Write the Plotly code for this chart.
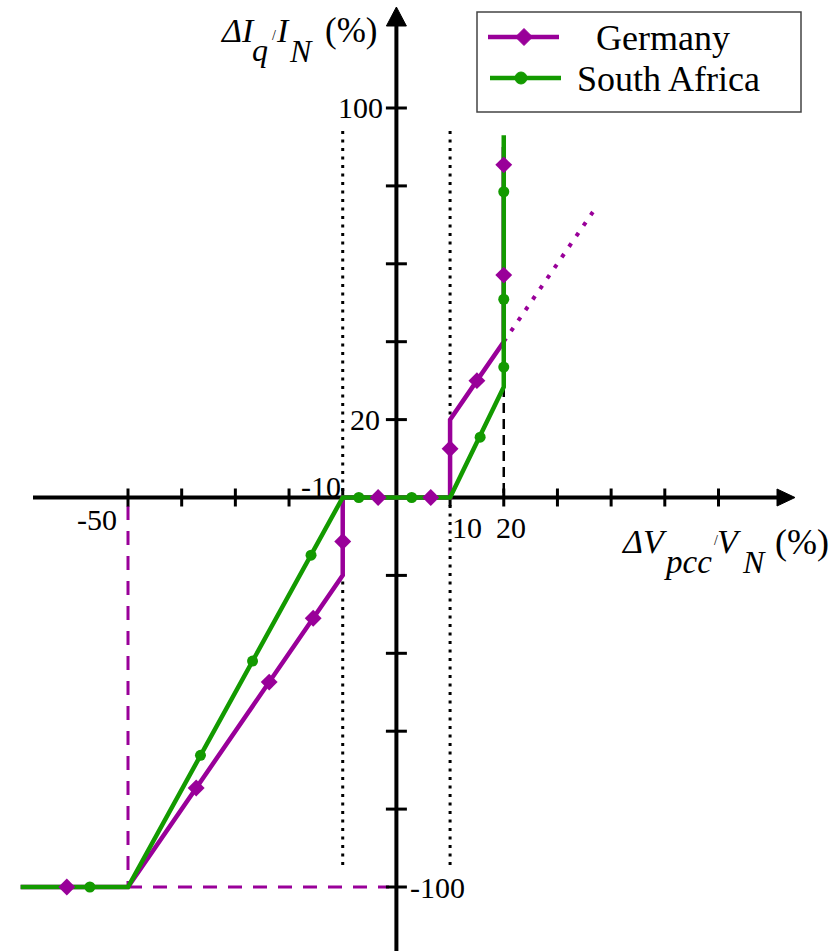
import plotly.graph_objects as go

# ---------------------------------------------------------------------------
# Reactive current injection characteristics (ΔIq/IN versus ΔVpcc/VN, in %)
# ---------------------------------------------------------------------------
# Germany: dead band ±10 %, k = 2, step of 20 % at the band edge
GER_LINE_X = [-70, -50, -10, -10, 10, 10, 15, 20, 20]
GER_LINE_Y = [-100, -100, -20, 0, 0, 20, 30, 40, 90]
GER_EXT_X = [20, 36.6]          # continuation of the k = 2 slope (dotted)
GER_EXT_Y = [40, 73.3]
GER_MARK_X = [-61.4, -37.3, -23.7, -15.5, -10, -3.4, 6.4, 10, 15, 20, 20]
GER_MARK_Y = [-100, -74.6, -47.4, -31.0, -11.3, 0, 0, 12.5, 30, 57.1, 85.4]

# South Africa: dead band ±10 %, k = 2.5 on the under-voltage side
SA_LINE_X = [-70, -50, -10, 10, 20, 20]
SA_LINE_Y = [-100, -100, 0, 0, 28.4, 93]
SA_MARK_X = [-57.1, -36.5, -26.8, -15.9, -7.0, 2.85, 15.6, 20, 20, 20]
SA_MARK_Y = [-100, -66.2, -42.0, -14.8, 0, 0, 15.5, 33.5, 50.9, 78.5]

X_TICKS = [-50, -40, -30, -20, -10, 10, 20, 30, 40, 50, 60]
Y_TICKS = [-100, -80, -60, -40, -20, 20, 40, 60, 80, 100]
X_TICK_LABELS = {-50: "-50", -10: "-10", 10: "10", 20: "20"}
Y_TICK_LABELS = {20: "20", 100: "100", -100: "-100"}

PURPLE = "#990099"
GREEN = "#139a00"
FONT = "Times New Roman, Liberation Serif, Tinos, serif"

# ---------------------------------------------------------------------------
# Canvas geometry: pixel <-> data conversion for the hand-drawn axes
# ---------------------------------------------------------------------------
W, H = 838, 951
OX, OY = 396.4, 497.5          # origin in pixels
KX, KY = 5.368, 3.895          # pixels per unit
X_RANGE = [-OX / KX, (W - OX) / KX]
Y_RANGE = [(OY - H) / KY, OY / KY]


def dx(px):
    return (px - OX) / KX


def dy(py):
    return (OY - py) / KY


def line(x0, y0, x1, y1, color="black", width=4, dash=None, layer="below"):
    ln = dict(color=color, width=width)
    if dash:
        ln["dash"] = dash
    return dict(type="line", x0=x0, y0=y0, x1=x1, y1=y1, xref="x", yref="y",
                line=ln, layer=layer)


shapes = []

# guide lines
shapes.append(line(-10, dy(131), -10, dy(867), width=3, dash="3px,5.5px"))
shapes.append(line(10, dy(131), 10, dy(867), width=3, dash="3px,5.5px"))
shapes.append(line(20, SA_LINE_Y[4], 20, 0, width=2.5, dash="10px,6px"))
shapes.append(line(-50, dy(506), -50, -100, color=PURPLE, width=3, dash="14px,11px"))
shapes.append(line(-50, -100, dx(389), -100, color=PURPLE, width=3, dash="14px,11px"))

# axes
shapes.append(line(dx(33), 0, dx(780), 0))
shapes.append(line(0, dy(H), 0, dy(24)))
shapes.append(dict(type="path", xref="x", yref="y", layer="below",
                   path=f"M{dx(795)},0 L{dx(777)},{8.5 / KY} L{dx(777)},{-8.5 / KY} Z",
                   fillcolor="black", line=dict(color="black", width=1)))
shapes.append(dict(type="path", xref="x", yref="y", layer="below",
                   path=f"M0,{dy(7)} L{10 / KX},{dy(26)} L{-10 / KX},{dy(26)} Z",
                   fillcolor="black", line=dict(color="black", width=1)))
for t in X_TICKS:
    shapes.append(line(t, 9 / KY, t, -9 / KY, width=3))
for t in Y_TICKS:
    shapes.append(line(-10.5 / KX, t, 10.5 / KX, t, width=3))

# legend frame and glyphs (paper coordinates)
def pxp(px):
    return px / W


def pyp(py):
    return 1 - py / H


shapes.append(dict(type="rect", xref="paper", yref="paper",
                   x0=pxp(477), y0=pyp(12), x1=pxp(801), y1=pyp(112),
                   line=dict(color="#444444", width=1.5), fillcolor="white", layer="above"))
shapes.append(dict(type="line", xref="paper", yref="paper",
                   x0=pxp(488), y0=pyp(37), x1=pxp(559), y1=pyp(37),
                   line=dict(color=PURPLE, width=4.5), layer="above"))
shapes.append(dict(type="path", xref="paper", yref="paper", layer="above",
                   path=(f"M{pxp(524 - 8.5)},{pyp(37)} L{pxp(524)},{pyp(37 - 8.5)} "
                         f"L{pxp(524 + 8.5)},{pyp(37)} L{pxp(524)},{pyp(37 + 8.5)} Z"),
                   fillcolor=PURPLE, line=dict(color=PURPLE, width=1)))
shapes.append(dict(type="line", xref="paper", yref="paper",
                   x0=pxp(490), y0=pyp(78), x1=pxp(561), y1=pyp(78),
                   line=dict(color=GREEN, width=4.5), layer="above"))
shapes.append(dict(type="circle", xref="paper", yref="paper", layer="above",
                   x0=pxp(521 - 6), y0=pyp(78 - 6), x1=pxp(521 + 6), y1=pyp(78 + 6),
                   fillcolor=GREEN, line=dict(color=GREEN, width=1)))

# ---------------------------------------------------------------------------
# Text
# ---------------------------------------------------------------------------
annotations = []


def text_at(txt, px, py_base, size, italic=False, anchor="left"):
    """Place text so that its baseline sits at py_base (pixels)."""
    center = py_base - 0.3375 * size
    annotations.append(dict(
        text=f"<i>{txt}</i>" if italic else txt,
        x=pxp(px), y=pyp(center), xref="paper", yref="paper",
        xanchor=anchor, yanchor="middle", showarrow=False,
        borderpad=0, borderwidth=0,
        font=dict(family=FONT, size=size, color="black")))


def label_center(txt, px, py, size=30):
    annotations.append(dict(
        text=txt, x=pxp(px), y=pyp(py), xref="paper", yref="paper",
        xanchor="center", yanchor="middle", showarrow=False,
        borderpad=0, borderwidth=0,
        font=dict(family=FONT, size=size, color="black")))


# tick labels
X_LABEL_POS = {-50: (97, 519), -10: (321, 486), 10: (467, 527), 20: (511, 527)}
Y_LABEL_POS = {20: (365, 420), 100: (360, 108), -100: (437, 887)}
for v, s in X_TICK_LABELS.items():
    label_center(s, *X_LABEL_POS[v])
for v, s in Y_TICK_LABELS.items():
    label_center(s, *Y_LABEL_POS[v])

# y-axis title: ΔIq/IN (%)
text_at("ΔI", 220, 42, 34, italic=True)
text_at("q", 252, 61, 32, italic=True)
text_at("/", 272, 40, 14)
text_at("I", 276, 42, 34, italic=True)
text_at("N", 289, 62, 32, italic=True)
text_at("(%)", 325, 42, 35)

# x-axis title: ΔVpcc/VN (%)
text_at("ΔV", 621, 553, 34, italic=True)
text_at("pcc", 664, 573, 33, italic=True)
text_at("/", 714, 545, 14)
text_at("V", 717, 553, 34, italic=True)
text_at("N", 742, 573, 32, italic=True)
text_at("(%)", 775, 554, 36)

# legend entries
label_center("Germany", 663, 50 - 0.3375 * 36, size=36)
label_center("South Africa", 668, 91 - 0.3375 * 36, size=36)

# ---------------------------------------------------------------------------
# Traces
# ---------------------------------------------------------------------------
fig = go.Figure()
fig.add_trace(go.Scatter(x=GER_LINE_X, y=GER_LINE_Y, mode="lines", name="Germany",
                         line=dict(color=PURPLE, width=4.5), hoverinfo="skip"))
fig.add_trace(go.Scatter(x=GER_EXT_X, y=GER_EXT_Y, mode="lines", name="Germany (k = 2)",
                         line=dict(color=PURPLE, width=4, dash="4px,8.8px"), hoverinfo="skip"))
fig.add_trace(go.Scatter(x=SA_LINE_X, y=SA_LINE_Y, mode="lines", name="South Africa",
                         line=dict(color=GREEN, width=4.5), hoverinfo="skip"))
fig.add_trace(go.Scatter(x=GER_MARK_X, y=GER_MARK_Y, mode="markers", name="Germany",
                         marker=dict(symbol="diamond", size=13, color=PURPLE)))
fig.add_trace(go.Scatter(x=SA_MARK_X, y=SA_MARK_Y, mode="markers", name="South Africa",
                         marker=dict(symbol="circle", size=11, color=GREEN)))

fig.update_layout(
    width=W, height=H,
    margin=dict(l=0, r=0, t=0, b=0, pad=0),
    paper_bgcolor="white", plot_bgcolor="white",
    showlegend=False,
    xaxis=dict(range=X_RANGE, visible=False, fixedrange=True),
    yaxis=dict(range=Y_RANGE, visible=False, fixedrange=True),
    shapes=shapes,
    annotations=annotations,
)

fig.write_html("out.html")
